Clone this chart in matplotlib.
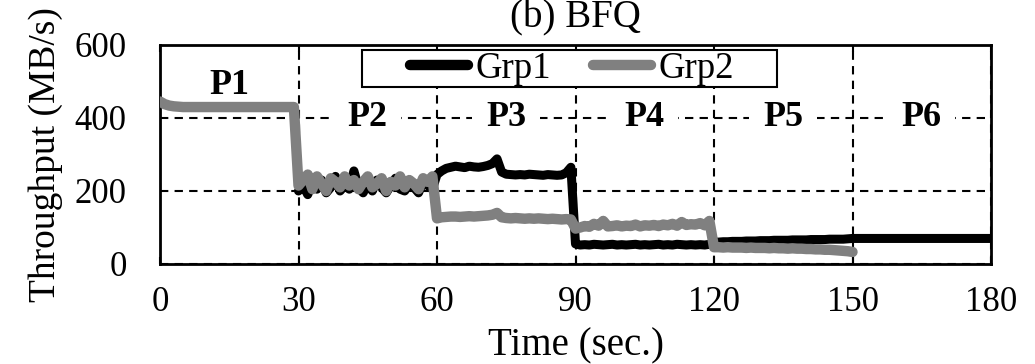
import matplotlib
matplotlib.use("Agg")
import matplotlib.pyplot as plt
from matplotlib.patches import Rectangle

plt.rcParams['font.family'] = ['Liberation Serif', 'DejaVu Serif']

# ---- data ----
grp1_start = 30
grp1 = [
    # 30-59 (P2)
    200, 215, 190, 225, 205, 230, 195, 210, 240, 200, 215, 205, 255, 210, 195,
    220, 200, 230, 210, 195, 215, 235, 205, 200, 220, 210, 195, 225, 215, 205,
    # 60-89 (P3)
    245, 255, 262, 265, 268, 266, 264, 268, 266, 265, 267, 270, 275, 288, 252,
    246, 245, 244, 245, 244, 246, 245, 244, 243, 245, 244, 243, 244, 250, 265,
    # 90-119 (P4)
    55, 52, 53, 52, 54, 53, 52, 53, 54, 52, 53, 52, 53, 54, 52,
    53, 52, 53, 54, 52, 53, 52, 54, 53, 52, 53, 52, 53, 52, 54,
    # 120-149 (P5)
    60, 60, 61, 61, 62, 62, 62, 63, 63, 63, 64, 64, 64, 65, 65,
    65, 65, 66, 66, 66, 66, 67, 67, 67, 67, 68, 68, 68, 68, 69,
    # 150-180 (P6)
    70, 70, 70, 70, 70, 70, 70, 70, 70, 70, 70, 70, 70, 70, 70, 70,
    70, 70, 70, 70, 70, 70, 70, 70, 70, 70, 70, 70, 70, 70, 70,
]
grp2_start = 0
grp2 = [
    # 0-29 (P1)
    445, 438, 434, 432, 431, 430, 430, 430, 430, 430, 430, 430, 430, 430, 430,
    430, 430, 430, 430, 430, 430, 430, 430, 430, 430, 430, 430, 430, 430, 430,
    # 30-59 (P2)
    215, 230, 245, 205, 240, 220, 200, 235, 225, 210, 240, 215, 230, 205, 225,
    240, 210, 220, 235, 200, 225, 215, 240, 210, 230, 220, 205, 235, 225, 240,
    # 60-89 (P3)
    125, 128, 129, 130, 130, 129, 130, 131, 130, 131, 132, 133, 135, 140, 128,
    126, 125, 126, 125, 124, 125, 124, 125, 124, 123, 124, 123, 122, 123, 122,
    # 90-119 (P4)
    97, 100, 104, 102, 110, 105, 118, 103, 104, 106, 103, 105, 104, 108, 103,
    106, 105, 107, 104, 108, 106, 110, 105, 115, 107, 109, 108, 112, 106, 118,
    # 120-150 (P5)
    46, 46, 45, 46, 45, 45, 45, 44, 45, 44, 44, 44, 43, 44, 43, 43,
    42, 43, 42, 42, 41, 41, 40, 40, 39, 39, 38, 37, 36, 35, 33,
]
phase_labels = ["P1", "P2", "P3", "P4", "P5", "P6"]
phase_x = [15, 45, 75, 105, 135, 165]
phase_y = [490, 400, 400, 400, 400, 400]
x_ticks = [0, 30, 60, 90, 120, 150, 180]
y_ticks = [0, 200, 400, 600]
series_names = ["Grp1", "Grp2"]

# ---- figure ----
W, H = 1035, 364
fig = plt.figure(figsize=(W / 100, H / 100), dpi=100)
ax = fig.add_axes([160 / W, 1 - 264 / H, (991 - 160) / W, (264 - 45) / H])

t1 = list(range(grp1_start, grp1_start + len(grp1)))
t2 = list(range(grp2_start, grp2_start + len(grp2)))

ax.plot(t1, grp1, color="black", lw=6.5, solid_capstyle="round",
        solid_joinstyle="round", label=series_names[0], zorder=3)
ax.plot(t2, grp2, color="#808080", lw=7.5, solid_capstyle="round",
        solid_joinstyle="round", label=series_names[1], zorder=4)

ax.set_xlim(0, 180)
ax.set_ylim(0, 600)
ax.set_xticks(x_ticks)
ax.set_yticks(y_ticks)
ax.grid(True, color="black", linestyle=(0, (4, 3)), linewidth=1.5, zorder=1)
ax.set_axisbelow(True)

for s in ax.spines.values():
    s.set_linewidth(2)
    s.set_color("black")

ax.tick_params(axis="x", direction="in", top=True, length=5, width=1.5,
               labelsize=25, pad=16)
ax.tick_params(axis="y", direction="in", length=0, labelsize=25, pad=24)

for lab, px, py in zip(phase_labels, phase_x, phase_y):
    bb = None
    if lab != "P1":
        bb = dict(facecolor="white", edgecolor="none", pad=10)
    ax.text(px, py, lab, ha="center", va="center", fontsize=26,
            fontweight="bold", bbox=bb, zorder=5)

ax.set_xlabel("Time (sec.)", fontsize=28, labelpad=6)
ax.set_ylabel("Throughput (MB/s)", fontsize=27, labelpad=8)

# legend frame (drawn by hand to match the loose horizontal padding)
frame = Rectangle((362 / W, 1 - 87 / H), (777 - 362) / W, (87 - 50) / H,
                  transform=fig.transFigure, facecolor="white",
                  edgecolor="black", linewidth=1.5, zorder=6)
ax.add_patch(frame)
leg = ax.legend(loc="center", bbox_to_anchor=(572 / W, 1 - 68.5 / H),
                bbox_transform=fig.transFigure, ncol=2, fontsize=26.5,
                frameon=False, handlelength=1.58, handletextpad=0.2,
                columnspacing=1.15, borderpad=0, borderaxespad=0)
for ln in leg.get_lines():
    ln.set_linewidth(7.5)
    ln.set_solid_capstyle("round")
leg.set_zorder(7)

fig.text(575 / W, 1 - 27 / H, "(b) BFQ", ha="center", va="baseline",
         fontsize=28)

fig.savefig("out.png", dpi=100)
